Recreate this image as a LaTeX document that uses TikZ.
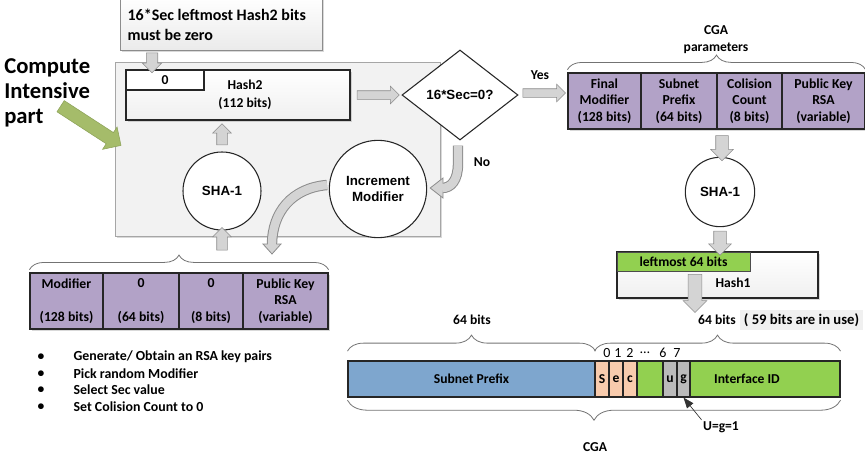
\documentclass[tikz,border=0pt]{standalone}
\usepackage{fontspec}
\setmainfont{Carlito}
\newfontfamily\arialf{Liberation Sans}
\usetikzlibrary{shapes.geometric,shapes.arrows,decorations.pathreplacing,calc,shadows,arrows.meta}
\definecolor{purp}{RGB}{178,162,199}
\definecolor{grn}{RGB}{146,208,80}
\definecolor{blu}{RGB}{126,166,206}
\definecolor{org}{RGB}{248,203,173}
\definecolor{myolive}{RGB}{165,188,106}
\definecolor{myolived}{RGB}{140,162,88}
\begin{document}
\begin{tikzpicture}[x=0.75pt,y=-0.75pt,
  every node/.style={font=\bfseries\fontsize{10.2}{12}\selectfont, inner sep=1pt},
  rc/.style n args={4}{rectangle, inner sep=0pt, minimum width={(#3-#1)*0.75pt}, minimum height={(#4-#2)*0.75pt}, at={({(#1+#3)/2},{(#2+#4)/2})}},
  arial/.style={font=\arialf\bfseries\fontsize{10}{12}\selectfont},
  shad/.style={drop shadow={shadow xshift=1.2pt,shadow yshift=-1.2pt,opacity=0.3}},
  cellp/.style={draw=black!85, line width=0.9pt, fill=purp, align=center, font=\bfseries\fontsize{10.3}{12.4}\selectfont},
  blk/.style n args={3}{single arrow, draw=black!45, fill=black!17, inner xsep=0pt, inner ysep=#2, single arrow head extend=#3, minimum height=#1, single arrow head indent=0pt},
  bracestyle/.style={decorate, decoration={brace, amplitude=#1}, draw=black!55, line width=0.6pt},
  cgacell/.style={draw=black!85, line width=0.8pt},
  curveout/.style={draw=black!45, line width=7.8pt},
  curvein/.style={draw=black!17, line width=6.3pt},
  heads/.style={draw=black!45, fill=black!17, line width=0.6pt}
]
\useasboundingbox (0,0) rectangle (865,458);

% ---------- left: compute intensive part ----------
\node[rc={115}{62}{440}{236}, draw=black!35, fill=black!5, shad] (box) {};
\node[rc={120}{-3}{322}{50}, draw=black!45, top color=white, bottom color=black!8, shad] (note) {};
\node[anchor=west, align=left, font=\bfseries\fontsize{12}{15}\selectfont] (notetxt) at (126,25) {16*Sec leftmost Hash2 bits\\must be zero};

\node[anchor=north west, align=left, font=\bfseries\fontsize{17}{19}\selectfont, inner sep=0pt] (cip) at (4,58) {Compute\\Intensive\\part};
\node[single arrow, draw=myolived, fill=myolive, inner xsep=0pt, inner ysep=4.8pt, single arrow head extend=5pt, minimum height=54pt, single arrow head indent=0pt, rotate=-33] (greenarr) at (88,124) {};

\node[rc={126}{70}{350}{120}, draw=black!85, line width=0.8pt, top color=white, bottom color=black!6, shad] (hash2) {};
\node[rc={126}{70}{204}{90}, draw=black!85, line width=0.8pt, fill=white] (zero) {0};
\node[align=center, font=\bfseries\fontsize{10.2}{13.5}\selectfont] (h2lbl) at (245,95) {Hash2\\(112 bits)};

\node[blk={15pt}{4.1pt}{3pt}, rotate=-90] (a1) at (152,60) {};

\node[diamond, draw=black!85, line width=0.8pt, fill=white, minimum width=87pt, minimum height=67.5pt, inner sep=0pt, aspect=1.29, arial] (dia) at (460,95) {16*Sec=0?};
\node[blk={31.5pt}{3pt}{3.4pt}] (a2) at ($(hash2.east)!0.5!(dia.west)$) {};

\node[circle, draw=black!85, line width=0.8pt, fill=white, minimum size=58.5pt, inner sep=0pt, arial] (sha1) at (222,191) {SHA-1};
\node[circle, draw=black!85, line width=0.8pt, fill=white, minimum size=73pt, inner sep=0pt, arial, align=center] (inc) at (378,189) {Increment\\Modifier};

\node[blk={15.8pt}{3.75pt}{3pt}, rotate=90] (a7) at (222,137) {};
\node[blk={17pt}{3.75pt}{3pt}, rotate=90] (a8) at (222,241.5) {};

% No arrow (curved)
\coordinate (n0) at ($(dia.south)+(-2,5)$);
\coordinate (n1) at (442,188);
\draw[curveout] (n0) -- ++(0,18) .. controls ++(0,17) and (451,188) .. (n1);
\draw[heads] ($(inc.east)+(3,-1)$) -- (443,178) -- (443,198) -- cycle;
\draw[curvein] (n0) -- ++(0,18) .. controls ++(0,17) and (451,188) .. (n1);
\node (nolbl) at (482,162) {No};

% Increment -> table (curved)
\coordinate (m0) at (327,185);
\coordinate (m1) at (272,245);
\draw[curveout] (m0) .. controls (292,188) and (272,212) .. (m1);
\draw[heads] (272,254) -- (263,244) -- (281,244) -- cycle;
\draw[curvein] (m0) .. controls (292,188) and (272,212) .. (m1);

% bottom-left table
\node[rc={30}{273}{103}{329}, cellp, shad] (t1) {Modifier\\\mbox{}\\(128 bits)};
\node[rc={103}{273}{179}{329}, cellp, shad] (t2) {0\\\mbox{}\\(64 bits)};
\node[rc={179}{273}{243}{329}, cellp, shad] (t3) {0\\\mbox{}\\(8 bits)};
\node[rc={243}{273}{328}{329}, cellp, shad] (t4) {Public Key\\RSA\\(variable)};
\draw[bracestyle=11pt] ([yshift=2pt]t1.north west) -- ([yshift=2pt]t4.north east);

\foreach \i/\yy/\txt in {1/357/{Generate/ Obtain an RSA key pairs},2/374/{Pick random Modifier},3/390/{Select Sec value},4/407/{Set Colision Count to 0}}{
  \node (bl\i) at (41,\yy) {\textbullet};
  \node[anchor=west, font=\bfseries\fontsize{10.4}{12}\selectfont] (bt\i) at (72,\yy) {\txt};
}

% ---------- right: CGA parameters ----------
\node[blk={32pt}{3pt}{3.4pt}] (a3) at (542,93) {};
\node (yeslbl) at (540,75) {Yes};

\node[rc={568}{73}{641}{129}, cellp, shad] (p1) {Final\\Modifier\\(128 bits)};
\node[rc={641}{73}{717}{129}, cellp, shad] (p2) {Subnet\\Prefix\\(64 bits)};
\node[rc={717}{73}{782}{129}, cellp, shad] (p3) {Colision\\Count\\(8 bits)};
\node[rc={782}{73}{865}{129}, cellp, shad] (p4) {Public Key\\RSA\\(variable)};
\draw[bracestyle=11pt] ([yshift=2pt]p1.north west) -- ([yshift=2pt]p4.north east);
\node[align=center, font=\bfseries\fontsize{10.2}{12.75}\selectfont] (cgap) at (716,40) {CGA\\parameters};

\node[circle, draw=black!85, line width=0.8pt, fill=white, minimum size=52pt, inner sep=0pt, arial] (sha2) at (720,192) {SHA-1};
\node[blk={18.8pt}{4.5pt}{3.75pt}, rotate=-90] (a4) at (722,145) {};

\node[rc={617}{252}{818}{298}, draw=black!85, line width=0.8pt, top color=white, bottom color=black!6, shad] (hash1) {};
\node[rc={617}{252}{750}{271}, draw=black!70, line width=0.6pt, fill=grn] (left64) {leftmost 64 bits};
\node (h1lbl) at (733,283) {Hash1};
\node[blk={18pt}{4.5pt}{3.75pt}, rotate=-90] (a5) at (720,240) {};
\node[blk={28.5pt}{4.9pt}{3.75pt}, rotate=-90] (a6) at (695,290) {};

% ---------- CGA bar ----------
\node[rc={348}{361}{595}{397}, cgacell, fill=blu] (sp) {Subnet Prefix};
\node[rc={637}{361}{840}{397}, cgacell, fill=grn] (iid) {};
\node (iidlbl) at (747,379) {Interface ID};
\node[rc={595}{361}{609}{397}, cgacell, fill=org] (cs) {S};
\node[rc={609}{361}{623}{397}, cgacell, fill=org] (ce) {e};
\node[rc={623}{361}{637}{397}, cgacell, fill=org] (cc) {c};
\node[rc={663}{361}{677}{397}, cgacell, fill=black!27] (cu) {u};
\node[rc={677}{361}{690}{397}, cgacell, fill=black!27] (cg) {g};

\foreach \n/\xx/\t in {b0/607/0,b1/618/1,b2/630/2,bd/645/{\dots},b6/663/6,b7/677/7}{
  \node[font=\mdseries\fontsize{10.5}{12}\selectfont] (\n) at (\xx,353) {\t};
}

\draw[bracestyle=12pt] ([yshift=7pt]sp.north west) -- ([yshift=7pt]sp.north east);
\draw[bracestyle=12pt] ([yshift=7pt]cs.north west) -- ([yshift=7pt]iid.north east);
\draw[bracestyle=15pt] ([yshift=-2pt]iid.south east) -- ([yshift=-2pt]sp.south west);

\node (l64) at (472,320) {64 bits};
\node (r64) at (717,320) {64 bits};
\node[rc={740}{310}{863}{330}, fill=black!6, font=\bfseries\fontsize{11}{12}\selectfont] (inuse) {( 59 bits are in use)};
\node (cgalbl) at (595,447) {CGA};

\node (ugl) at (721,427) {U=g=1};
\draw[black!80, line width=0.5pt, -{Triangle[length=8pt,width=6pt]}] (ugl.north west) -- (cg.south);
\end{tikzpicture}
\end{document}
